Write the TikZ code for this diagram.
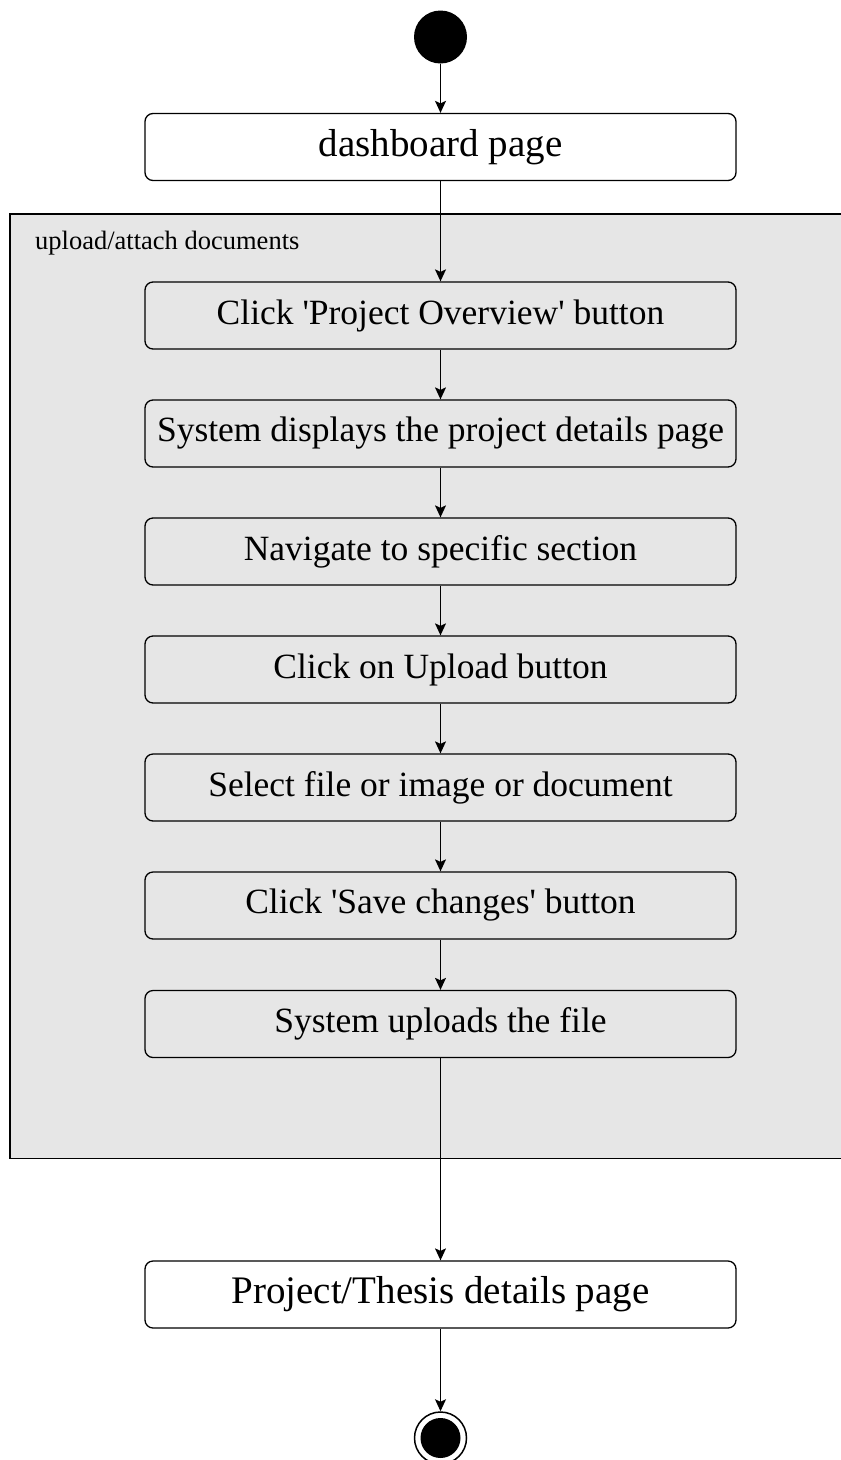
\documentclass[tikz,border=0pt]{standalone}
\usepackage{fontspec}
\setmainfont{Liberation Serif}
\usetikzlibrary{arrows.meta}
\definecolor{partgray}{HTML}{E6E6E6}
\tikzset{
  action/.style={draw, line width=1.3pt, rounded corners=8pt, minimum width=591pt,
    minimum height=67pt, inner sep=0pt, font=\fontsize{35.5}{42}\selectfont},
  outer action/.style={action, fill=white, font=\fontsize{39}{46}\selectfont},
  flow/.style={draw, line width=1.3pt, -{Stealth[length=12pt,width=11pt,inset=2.5pt]}},
  partition/.style={draw, line width=1.4pt, fill=partgray},
}
\begin{document}
\begin{tikzpicture}[x=1pt, y=-1pt]
\useasboundingbox (0,0) rectangle (841,1460);

% activity partition
\draw[partition] (10,214) rectangle (850,1158.5);
\node[anchor=base west, inner sep=0pt, font=\fontsize{26.5}{30}\selectfont] (plabel) at (35,249) {upload/attach documents};

% initial node
\node[circle, fill=black, minimum size=53pt, inner sep=0pt] (start) at (440.5,37) {};

% actions
\node[outer action] (dash) at (440.5,147) {dashboard page};
\node[action] (a1) at (440.5,315.5) {Click \textquotesingle Project Overview\textquotesingle{} button};
\node[action] (a2) at (440.5,433.5) {System displays the project details page};
\node[action] (a3) at (440.5,551.5) {Navigate to specific section};
\node[action] (a4) at (440.5,669.5) {Click on Upload button};
\node[action] (a5) at (440.5,787.5) {Select file or image or document};
\node[action] (a6) at (440.5,905.5) {Click \textquotesingle Save changes\textquotesingle{} button};
\node[action] (a7) at (440.5,1024) {System uploads the file};
\node[outer action] (thesis) at (440.5,1294.5) {Project/Thesis details page};

% final node
\node[circle, draw, line width=1.5pt, fill=white, minimum size=52pt, inner sep=0pt] (final) at (440.5,1438) {};
\fill (final.center) circle (20pt);

% control flows
\draw[flow] (start) -- (dash);
\draw[flow] (dash) -- (a1);
\draw[flow] (a1) -- (a2);
\draw[flow] (a2) -- (a3);
\draw[flow] (a3) -- (a4);
\draw[flow] (a4) -- (a5);
\draw[flow] (a5) -- (a6);
\draw[flow] (a6) -- (a7);
\draw[flow] (a7) -- (thesis);
\draw[flow] (thesis) -- (final);
\end{tikzpicture}
\end{document}
